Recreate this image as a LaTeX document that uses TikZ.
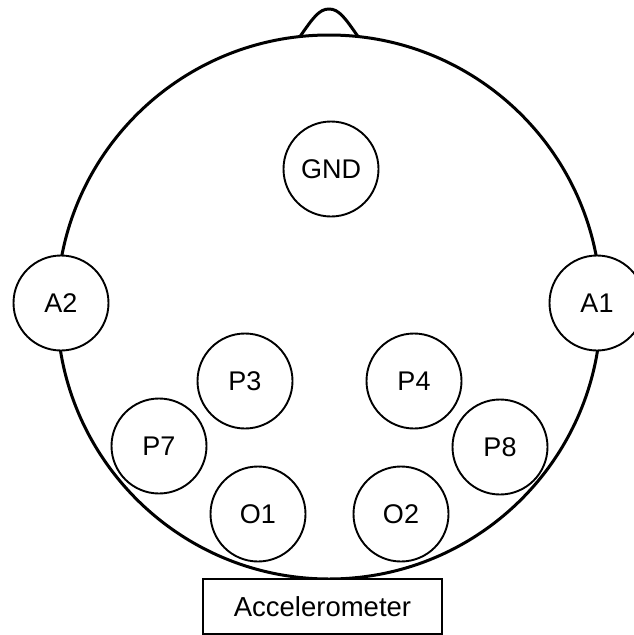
\documentclass[tikz,border=0pt]{standalone}
\usepackage{fontspec}
\setmainfont{Liberation Sans}
\begin{document}
\begin{tikzpicture}[x=1pt,y=1pt,
  electrode/.style={circle, draw=black, fill=white, line width=1.9pt,
    minimum size=95pt, inner sep=0pt, font=\fontsize{27}{31}\selectfont},
  sensorbox/.style={rectangle, draw=black, fill=white, line width=1.8pt,
    minimum width=239pt, minimum height=55pt, inner sep=0pt,
    font=\fontsize{27.5}{31}\selectfont},
  headline/.style={line width=3pt, line join=round}]
  \useasboundingbox (0,0) rectangle (634,-635);
  % head outline and nose
  \coordinate (hc) at (329,-307);
  \draw[headline] (hc) circle (272);
  \coordinate (nl) at (300,-36.5);
  \coordinate (nr) at (358,-36.5);
  \coordinate (nt) at (329,-9);
  \draw[headline] (nl) .. controls (313,-18) and (319,-9) .. (nt)
    .. controls (339,-9) and (345,-18) .. (nr);
  % electrodes
  \node[electrode] (gnd) at (331,-169) {GND};
  \node[electrode] (a2) at (61,-303) {A2};
  \node[electrode] (a1) at (597,-303) {A1};
  \node[electrode] (p3) at (245,-381) {P3};
  \node[electrode] (p4) at (414,-381) {P4};
  \node[electrode] (p7) at (159,-446) {P7};
  \node[electrode] (p8) at (500,-447) {P8};
  \node[electrode] (o1) at (258,-514) {O1};
  \node[electrode] (o2) at (401,-514) {O2};
  % accelerometer
  \node[sensorbox] (acc) at (322.5,-606.5) {Accelerometer};
\end{tikzpicture}
\end{document}
